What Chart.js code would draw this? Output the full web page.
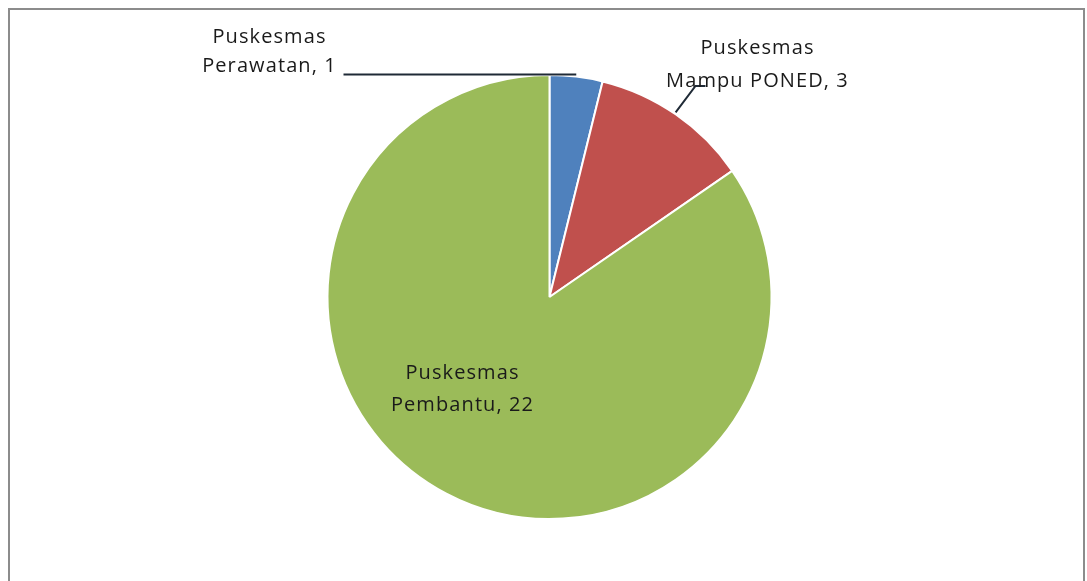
<!DOCTYPE html>
<html lang="id">
  <head>
    <meta charset="UTF-8" />
    <title>Jumlah Puskesmas</title>
    <style>
      body {
        margin: 0;
        background-color: white;
      }
    </style>
  </head>
  <body>
    <canvas id="pieChart" width="1087" height="581"></canvas>

    <script src="https://cdn.jsdelivr.net/npm/chart.js"></script>
    <script>
      // data dari gambar
      const kategori = ["Puskesmas Perawatan", "Puskesmas Mampu PONED", "Puskesmas Pembantu"];
      const jumlah = [1, 3, 22];
      const warna = ["#4F81BD", "#C0504D", "#9BBB59"];

      // teks label per irisan
      const labelLines = [
        ["Puskesmas", "Perawatan, 1"],
        ["Puskesmas", "Mampu PONED, 3"],
        ["Puskesmas", "Pembantu, 22"],
      ];

      const labelPlugin = {
        id: "labelPlugin",
        beforeDraw(chart) {
          const ctx = chart.ctx;
          // bingkai abu-abu
          ctx.save();
          ctx.strokeStyle = "#8c8c8c";
          ctx.lineWidth = 2;
          ctx.strokeRect(9, 9, 1075, 600);
          ctx.restore();
        },
        afterDraw(chart) {
          const ctx = chart.ctx;
          const arcs = chart.getDatasetMeta(0).data;
          const cx = arcs[0].x;
          const cy = arcs[0].y;
          const r = arcs[0].outerRadius;

          function titik(i, f) {
            const a = (arcs[i].startAngle + arcs[i].endAngle) / 2;
            return { x: cx + Math.cos(a) * r * f, y: cy + Math.sin(a) * r * f };
          }

          ctx.save();
          ctx.font = "500 20px 'Open Sans'";
          ctx.letterSpacing = "1.1px";
          ctx.fillStyle = "#1a1a1a";
          ctx.textAlign = "center";
          ctx.textBaseline = "middle";
          ctx.strokeStyle = "#1f2a36";
          ctx.lineWidth = 2;

          // Perawatan: garis horizontal ke kiri
          const p0 = titik(0, 1);
          ctx.beginPath();
          ctx.moveTo(p0.x, p0.y - 2);
          ctx.lineTo(cx - 206, p0.y - 2);
          ctx.stroke();
          ctx.fillText(labelLines[0][0], cx - 280, cy - 260);
          ctx.fillText(labelLines[0][1], cx - 280, cy - 231);

          // Mampu PONED
          const p1 = titik(1, 1);
          ctx.beginPath();
          ctx.moveTo(p1.x, p1.y - 2);
          ctx.lineTo(cx + 146, cy - 211);
          ctx.lineTo(cx + 156, cy - 211);
          ctx.stroke();
          ctx.fillText(labelLines[1][0], cx + 208, cy - 249);
          ctx.fillText(labelLines[1][1], cx + 208, cy - 216);

          // Pembantu: di dalam irisan
          ctx.fillText(labelLines[2][0], cx - 87, cy + 76);
          ctx.fillText(labelLines[2][1], cx - 87, cy + 108);
          ctx.restore();
        },
      };

      const ctx = document.getElementById("pieChart").getContext("2d");
      new Chart(ctx, {
        type: "pie",
        data: {
          labels: kategori,
          datasets: [
            {
              data: jumlah,
              backgroundColor: warna,
              borderColor: "#ffffff",
              borderWidth: 2,
            },
          ],
        },
        options: {
          responsive: false,
          animation: false,
          layout: {
            padding: { left: 12, right: 0, top: 74, bottom: 61 },
          },
          plugins: {
            legend: { display: false },
            tooltip: { enabled: false },
          },
        },
        plugins: [labelPlugin],
      });
    </script>
  </body>
</html>
